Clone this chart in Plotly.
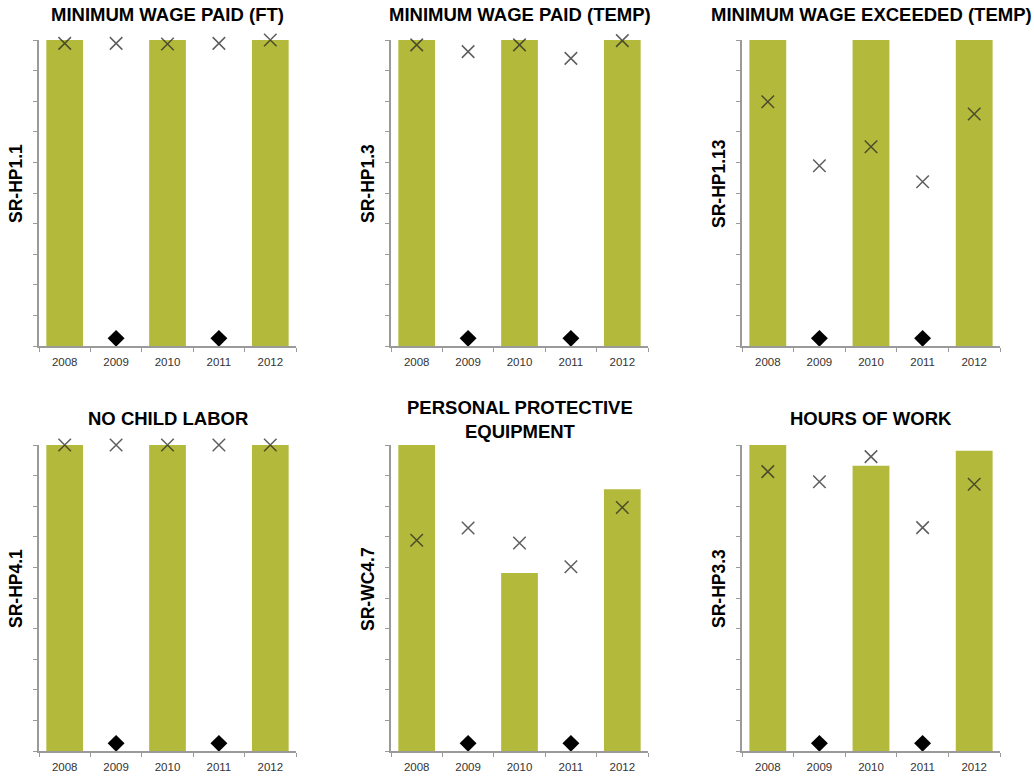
import plotly.graph_objects as go

years = ["2008", "2009", "2010", "2011", "2012"]

titles = [
    "MINIMUM WAGE PAID (FT)",
    "MINIMUM WAGE PAID (TEMP)",
    "MINIMUM WAGE EXCEEDED (TEMP)",
    "NO CHILD LABOR",
    "PERSONAL PROTECTIVE<br>EQUIPMENT",
    "HOURS OF WORK",
]
codes = ["SR-HP1.1", "SR-HP1.3", "SR-HP1.13", "SR-HP4.1", "SR-WC4.7", "SR-HP3.3"]

# Bar values (None = no bar in that year)
bars_hp11 = [100, None, 100, None, 100]
bars_hp13 = [100, None, 100, None, 100]
bars_hp113 = [100, None, 100, None, 100]
bars_hp41 = [100, None, 100, None, 100]
bars_wc47 = [100, None, 58.2, None, 85.5]
bars_hp33 = [100, None, 93.2, None, 98.1]

# Cross-marker values
x_hp11 = [98.9, 98.9, 98.7, 98.9, 100]
x_hp13 = [98.4, 96.2, 98.4, 94.0, 99.8]
x_hp113 = [79.8, 58.9, 65.1, 53.7, 75.8]
x_hp41 = [100, 100, 100, 100, 100]
x_wc47 = [68.9, 72.9, 68.0, 60.2, 79.6]
x_hp33 = [91.3, 88.0, 96.2, 73.0, 87.2]

# Diamond markers
diamond_years = ["2009", "2011"]
diamond_vals = [2.5, 2.5]

bar_series = [bars_hp11, bars_hp13, bars_hp113, bars_hp41, bars_wc47, bars_hp33]
x_series = [x_hp11, x_hp13, x_hp113, x_hp41, x_wc47, x_hp33]

W, H = 1034, 776
col_px = [(39, 296), (391, 648), (742, 1000)]
row_px = [(40, 346), (445, 751)]

fig = go.Figure()
BAR = "#B3B93A"
AX = "#9a9a9a"
XCOL = "rgba(40,40,40,0.75)"
FONT = "Liberation Sans, Arial, sans-serif"

for i in range(6):
    r, c = divmod(i, 3)
    n = i + 1
    xa = "x" if n == 1 else f"x{n}"
    ya = "y" if n == 1 else f"y{n}"
    x0, x1 = col_px[c]
    y0, y1 = row_px[r]
    xd = [x0 / W, x1 / W]
    yd = [1 - y1 / H, 1 - y0 / H]

    fig.add_trace(go.Bar(x=years, y=bar_series[i], marker=dict(color=BAR, line=dict(width=0)),
                         xaxis=xa, yaxis=ya, showlegend=False, hoverinfo="skip"))
    fig.add_trace(go.Scatter(x=years, y=x_series[i], mode="markers",
                             marker=dict(symbol="x-thin-open", size=12.5, color=XCOL,
                                         line=dict(color=XCOL, width=1.5)),
                             xaxis=xa, yaxis=ya, showlegend=False, cliponaxis=False))
    fig.add_trace(go.Scatter(x=diamond_years, y=diamond_vals, mode="markers",
                             marker=dict(symbol="diamond", size=13, color="black"),
                             xaxis=xa, yaxis=ya, showlegend=False, cliponaxis=False))

    xk = "xaxis" if n == 1 else f"xaxis{n}"
    yk = "yaxis" if n == 1 else f"yaxis{n}"
    fig.layout[xk] = dict(domain=xd, anchor=ya, type="category", categoryorder="array",
                          categoryarray=years, tickson="boundaries", ticks="outside",
                          ticklen=4, tickcolor=AX, showline=True, linecolor=AX, linewidth=1.5,
                          showgrid=False, zeroline=False, ticklabelstandoff=4,
                          tickfont=dict(size=11.5, color="#333333", family=FONT), fixedrange=True)
    fig.layout[yk] = dict(domain=yd, anchor=xa, range=[0, 100], tick0=0, dtick=10,
                          ticks="outside", ticklen=4, tickcolor=AX, showticklabels=False,
                          showline=True, linecolor=AX, linewidth=1.5, showgrid=False,
                          zeroline=False, fixedrange=True)

    # Panel title
    title_y = 14 if r == 0 else 418
    if i == 4:
        title_y = 419
    fig.add_annotation(text=f"<b>{titles[i]}</b>", xref="paper", yref="paper",
                       x=(x0 + x1) / 2 / W, y=1 - title_y / H, showarrow=False,
                       xanchor="center", yanchor="middle",
                       font=dict(size=18.5, color="black", family=FONT))
    # y-axis title
    ymid = (y0 + y1) / 2 - 9
    fig.add_annotation(text=f"<b>{codes[i]}</b>", xref="paper", yref="paper",
                       x=(x0 - 23) / W, y=1 - ymid / H, showarrow=False, textangle=-90,
                       xanchor="center", yanchor="middle",
                       font=dict(size=17.5, color="black", family=FONT))

fig.update_layout(width=W, height=H, margin=dict(l=0, r=0, t=0, b=0),
                  paper_bgcolor="white", plot_bgcolor="white", bargap=0.286,
                  showlegend=False)

fig.write_html("out.html", config={"displayModeBar": False},
               post_script="document.body.style.margin='0';document.body.style.overflow='hidden';")
